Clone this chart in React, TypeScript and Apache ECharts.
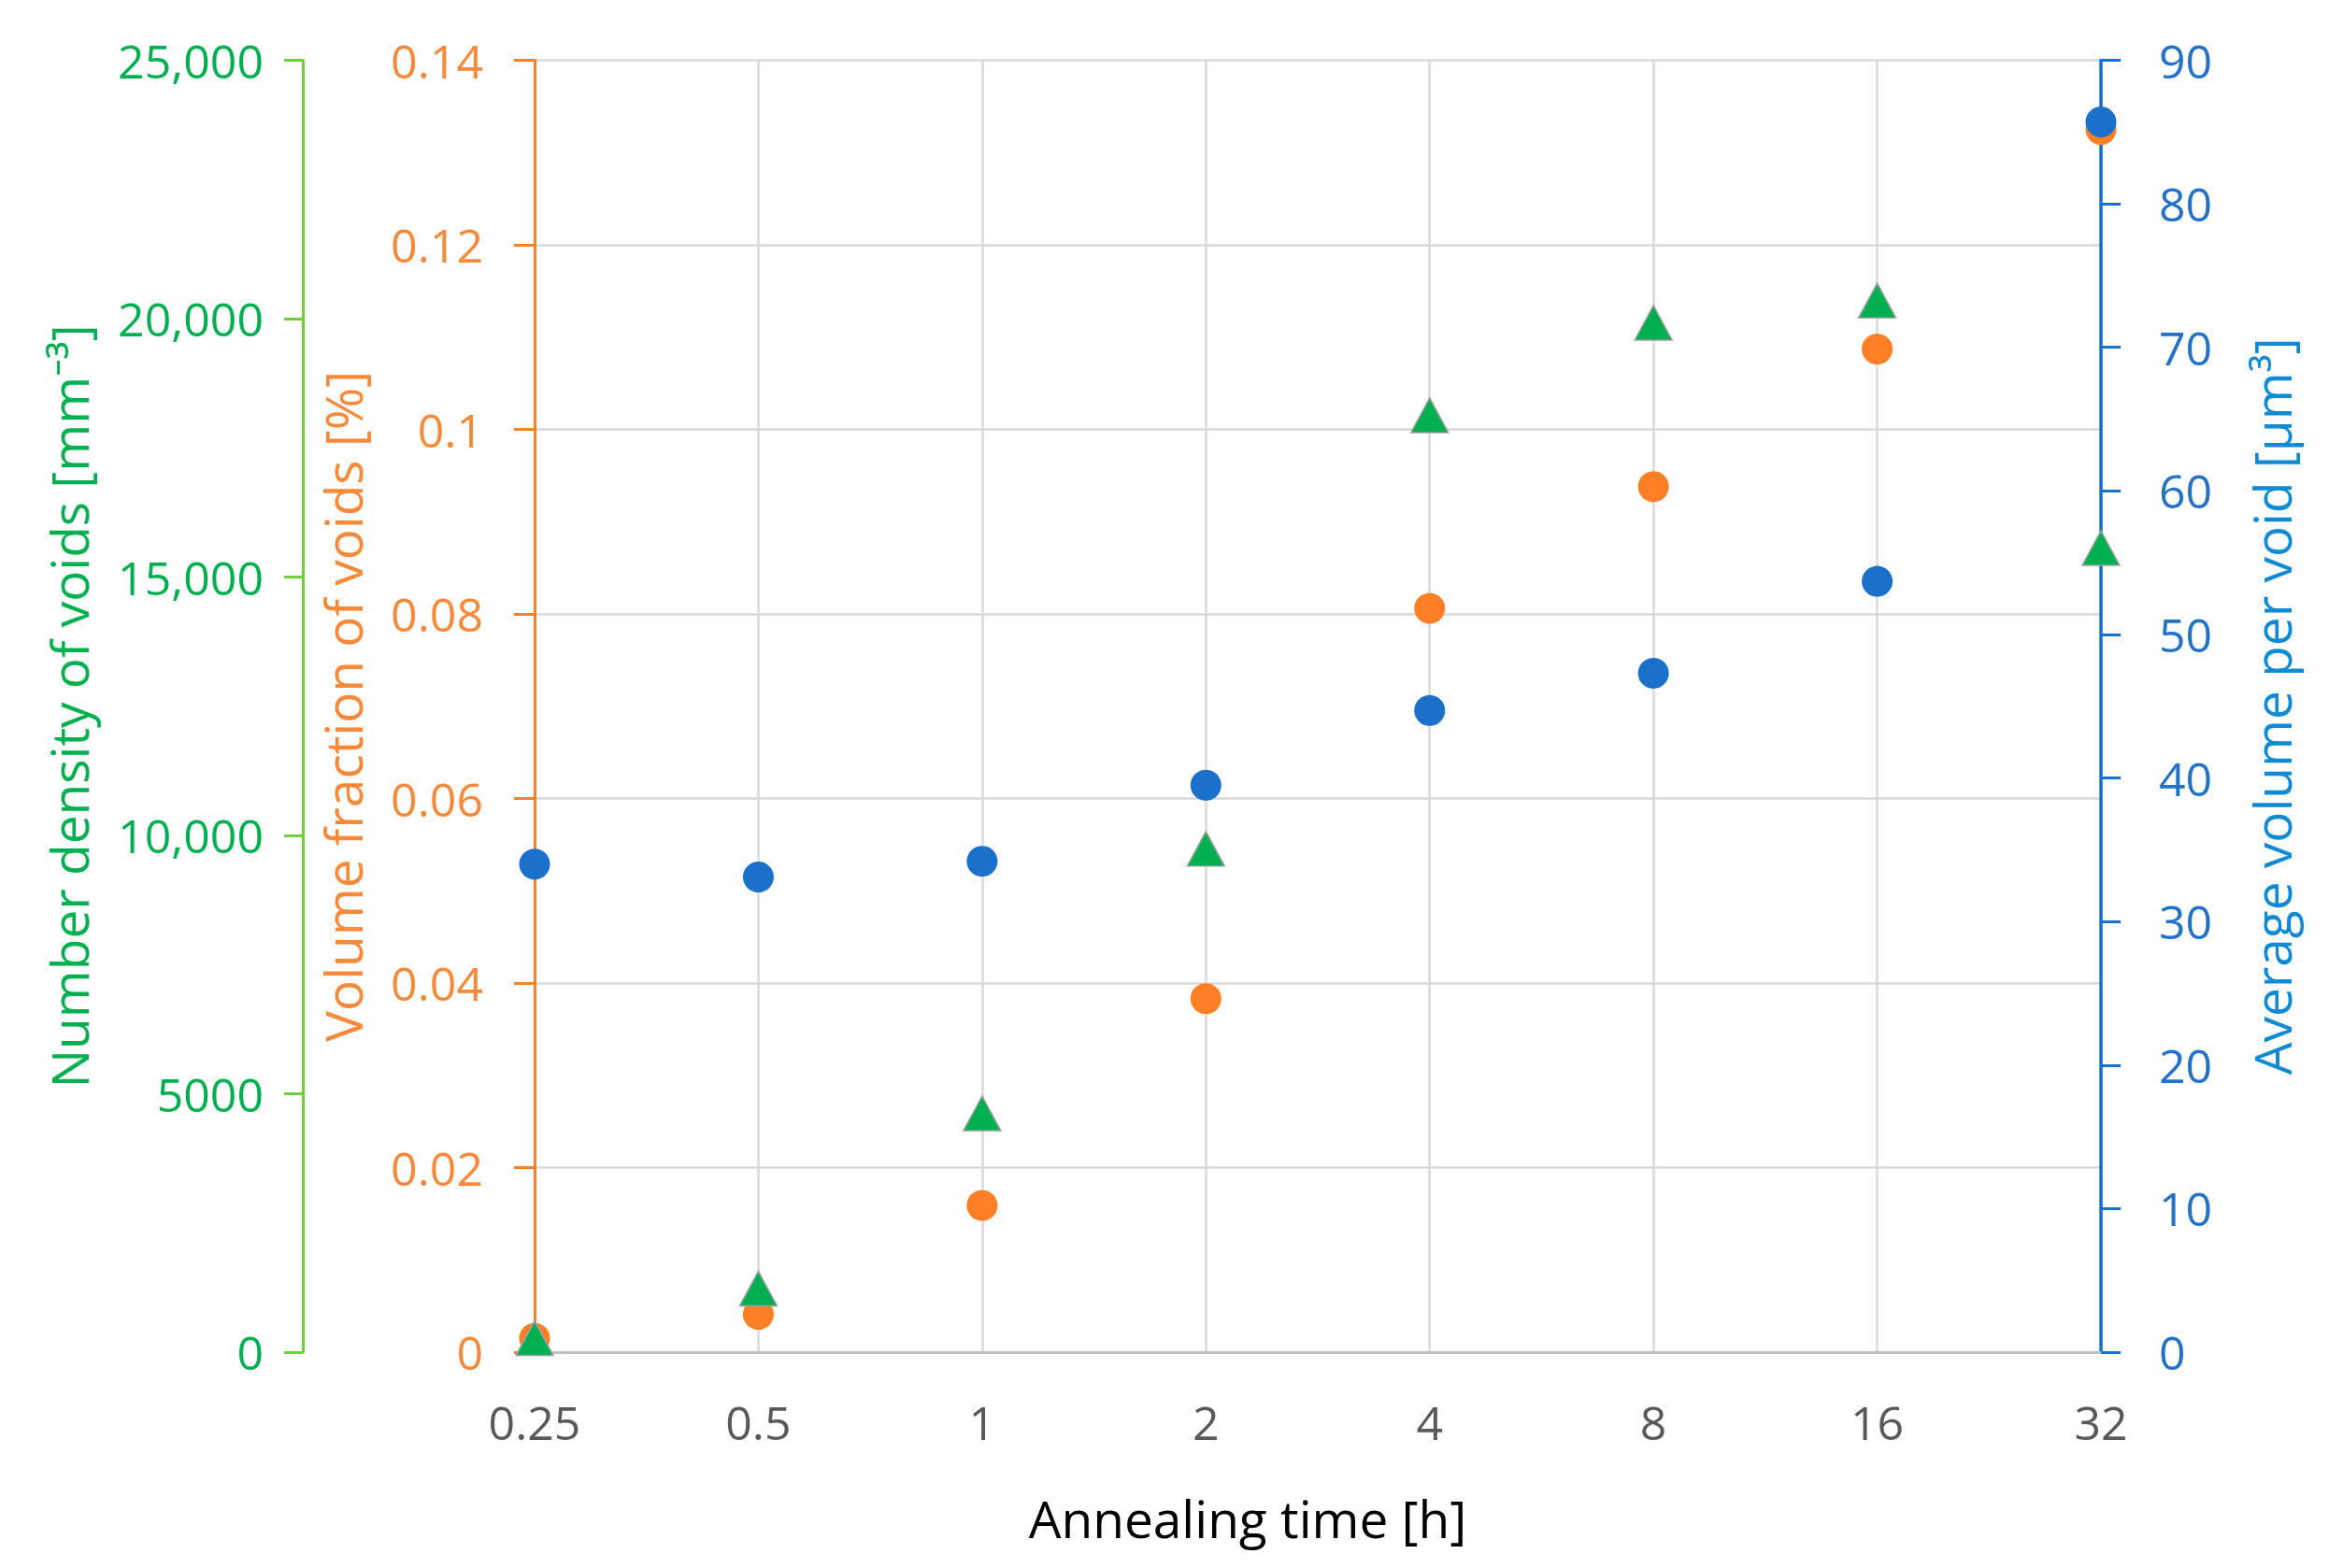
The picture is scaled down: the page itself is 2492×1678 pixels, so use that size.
import React, { useEffect, useRef } from "react";
import * as echarts from "echarts";

const categories = ["0.25", "0.5", "1", "2", "4", "8", "16", "32"];
const numberDensity = [270, 1230, 4620, 9740, 18130, 19920, 20350, 15560];
const volumeFraction = [0.0015, 0.0041, 0.0159, 0.0383, 0.0806, 0.0938, 0.1087, 0.1325];
const avgVolume = [34.0, 33.1, 34.2, 39.5, 44.7, 47.3, 53.7, 85.7];

const greenTicks = ["0", "5000", "10,000", "15,000", "20,000", "25,000"];
const orangeTicks = ["0", "0.02", "0.04", "0.06", "0.08", "0.1", "0.12", "0.14"];
const blueTicks = ["0", "10", "20", "30", "40", "50", "60", "70", "80", "90"];

const xTitle = "Annealing time [h]";
const greenTitle = "Number density of voids [mm\u207B\u00B3]";
const orangeTitle = "Volume fraction of voids [%]";
const blueTitle = "Average volume per void [\u00B5m\u00B3]";

const FONT = "'Open Sans', 'Noto Sans', 'DejaVu Sans', sans-serif";

export default function App() {
  const ref = useRef<HTMLDivElement>(null);
  useEffect(() => {
    if (!ref.current) return;
    const chart = echarts.init(ref.current, null, { renderer: "svg" });
    const option = {
      animation: false,
      backgroundColor: "#ffffff",
      textStyle: { fontFamily: FONT },
      grid: { left: 572, right: 244, top: 64.5, bottom: 231, containLabel: false },
      xAxis: {
        type: "category",
        data: categories,
        boundaryGap: false,
        axisLine: { show: true, lineStyle: { color: "#bfbfbf", width: 3 } },
        axisTick: { show: false },
        axisLabel: { color: "#595959", fontSize: 50, margin: 50, fontFamily: FONT },
        splitLine: { show: true, lineStyle: { color: "#d9d9d9", width: 2.5 } },
      },
      yAxis: [
        {
          type: "value",
          position: "left",
          min: 0,
          max: 0.14,
          interval: 0.02,
          axisLine: { show: true, lineStyle: { color: "#ff7f27", width: 3 } },
          axisTick: { show: true, inside: false, length: 22, lineStyle: { color: "#ff7f27", width: 3 } },
          axisLabel: {
            color: "#f7893a",
            fontSize: 50,
            margin: 55,
            fontFamily: FONT,
            formatter: (v: number) => orangeTicks[Math.round(v / 0.02)] ?? "",
          },
          splitLine: { show: true, lineStyle: { color: "#d9d9d9", width: 2.5 } },
          name: orangeTitle,
          nameLocation: "middle",
          nameGap: 178,
          nameTextStyle: { color: "#f7893a", fontSize: 55, fontFamily: FONT },
        },
        {
          type: "value",
          position: "left",
          offset: 248,
          min: 0,
          max: 25000,
          interval: 5000,
          axisLine: { show: true, lineStyle: { color: "#6fd03c", width: 3 } },
          axisTick: { show: true, inside: false, length: 20, lineStyle: { color: "#6fd03c", width: 3 } },
          axisLabel: {
            color: "#00b050",
            fontSize: 50,
            margin: 42,
            fontFamily: FONT,
            formatter: (v: number) => greenTicks[Math.round(v / 5000)] ?? "",
          },
          splitLine: { show: false },
          name: greenTitle,
          nameLocation: "middle",
          nameGap: 223,
          nameTextStyle: { color: "#00b050", fontSize: 55, fontFamily: FONT },
        },
        {
          type: "value",
          position: "right",
          min: 0,
          max: 90,
          interval: 10,
          axisLine: { show: true, lineStyle: { color: "#1b70c9", width: 3.5 } },
          axisTick: { show: true, inside: false, length: 21, lineStyle: { color: "#1b70c9", width: 3 } },
          axisLabel: {
            color: "#2472c8",
            fontSize: 50,
            margin: 62,
            fontFamily: FONT,
            formatter: (v: number) => blueTicks[Math.round(v / 10)] ?? "",
          },
          splitLine: { show: false },
          name: blueTitle,
          nameLocation: "middle",
          nameGap: 155,
          nameTextStyle: { color: "#118ad4", fontSize: 55, fontFamily: FONT },
        },
      ],
      graphic: [
        {
          type: "text",
          x: 1335,
          y: 1624,
          style: {
            text: xTitle,
            fill: "#000000",
            fontSize: 55,
            fontFamily: FONT,
            textAlign: "center",
            textVerticalAlign: "middle",
          },
        },
      ],
      series: [
        {
          name: orangeTitle,
          type: "scatter",
          yAxisIndex: 0,
          data: volumeFraction,
          symbol: "circle",
          symbolSize: 33,
          itemStyle: { color: "#ff7f27", opacity: 1 },
          z: 3,
        },
        {
          name: greenTitle,
          type: "scatter",
          yAxisIndex: 1,
          data: numberDensity,
          symbol: "triangle",
          symbolSize: [40, 37],
          itemStyle: { color: "#00b050", borderColor: "#a0a0a0", borderWidth: 1.5, opacity: 1 },
          z: 4,
        },
        {
          name: blueTitle,
          type: "scatter",
          yAxisIndex: 2,
          data: avgVolume,
          symbol: "circle",
          symbolSize: 33,
          itemStyle: { color: "#1b70c9", opacity: 1 },
          z: 5,
        },
      ],
    };
    chart.setOption(option as any);
    return () => chart.dispose();
  }, []);
  return (
    <div
      ref={ref}
      style={{ position: "fixed", left: 0, top: 0, width: 2492, height: 1678, background: "#fff" }}
    />
  );
}
